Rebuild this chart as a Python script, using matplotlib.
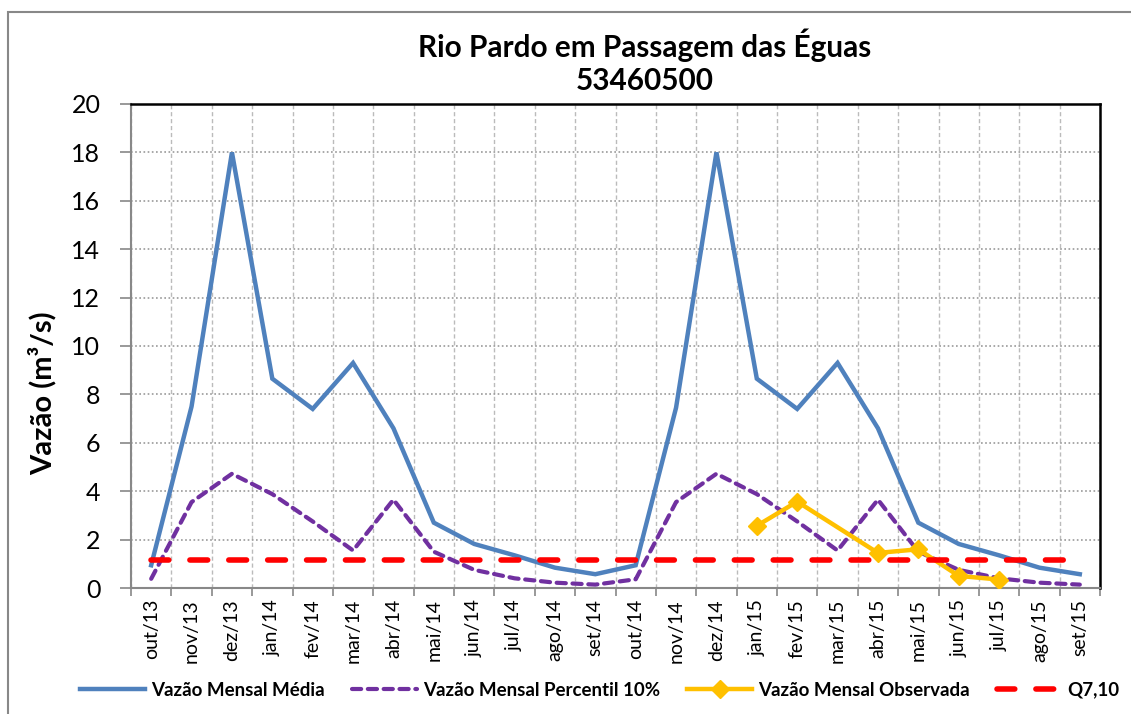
import numpy as np
import matplotlib
matplotlib.use("Agg")
import matplotlib.pyplot as plt
from matplotlib.patches import Rectangle

months = ["out/13", "nov/13", "dez/13", "jan/14", "fev/14", "mar/14", "abr/14", "mai/14",
          "jun/14", "jul/14", "ago/14", "set/14", "out/14", "nov/14", "dez/14", "jan/15",
          "fev/15", "mar/15", "abr/15", "mai/15", "jun/15", "jul/15", "ago/15", "set/15"]
media = [0.94, 7.5, 18.0, 8.65, 7.4, 9.3, 6.6, 2.7, 1.82, 1.35, 0.84, 0.57,
         0.94, 7.45, 18.0, 8.65, 7.4, 9.3, 6.6, 2.7, 1.82, 1.35, 0.84, 0.57]
perc10 = [0.38, 3.55, 4.72, 3.88, 2.75, 1.55, 3.65, 1.5, 0.75, 0.4, 0.22, 0.14,
          0.36, 3.55, 4.72, 3.88, 2.75, 1.55, 3.65, 1.5, 0.75, 0.4, 0.22, 0.14]
observada = [np.nan] * 15 + [2.57, 3.57, np.nan, 1.45, 1.6, 0.5, 0.35, np.nan, np.nan]
q710 = 1.17

plt.rcParams['font.family'] = ['Lato', 'DejaVu Sans']

fig = plt.figure(figsize=(11.31, 7.14), dpi=100)
ax = fig.add_axes([131/1131, 1-588/714, (1100-131)/1131, (588-104)/714])

x = np.arange(len(months))
ax.plot(x, media, color='#4F81BD', lw=3.2, solid_joinstyle='miter', label='Vazão Mensal Média', zorder=3)
ax.plot(x, perc10, color='#7030A0', lw=3.0, linestyle=(0, (2.2, 1.6)), dash_capstyle='round',
        label='Vazão Mensal Percentil 10%', zorder=3)
obs = np.array(observada, dtype=float)
m = ~np.isnan(obs)
ax.plot(x[m], obs[m], color='#FFC000', lw=3.2, marker='D', markersize=9.5, label='Vazão Mensal Observada', zorder=4)
ax.plot(x, [q710] * len(x), color='#FF0000', lw=4, linestyle=(0, (3.2, 3.8)), dash_capstyle='round',
        label='Q7,10', zorder=5)

ax.set_xlim(-0.5, len(months) - 0.5)
ax.set_ylim(0, 20)
ax.set_yticks(np.arange(0, 21, 2))
ax.set_xticks(x)
ax.set_xticklabels(months, rotation=90, fontsize=14)
ax.set_xticks(np.arange(-0.5, len(months), 1), minor=True)
ax.tick_params(axis='x', which='major', length=0, pad=8)
ax.tick_params(axis='x', which='minor', length=6, color='#888888', width=1.2)
ax.tick_params(axis='y', labelsize=18, length=8, color='#888888', width=1.2, pad=14)
ax.grid(True, axis='y', which='major', color='#999999', linestyle=(0, (1, 1.5)), lw=1.2)
ax.grid(True, axis='x', which='minor', color='#bbbbbb', linestyle=(0, (3, 2)), lw=1)
ax.set_axisbelow(True)
for s in ['left', 'bottom']:
    ax.spines[s].set_color('#888888')
    ax.spines[s].set_linewidth(1.5)
for s in ['top', 'right']:
    ax.spines[s].set_color('black')
    ax.spines[s].set_linewidth(1.8)

fig.text(42/1131, 1-393/714, 'Vazão (m³/s)', rotation=90, ha='center', va='center',
         fontsize=21, fontweight='bold')
fig.text(645/1131, 1-45/714, 'Rio Pardo em Passagem das Éguas', ha='center', va='center',
         fontsize=21.4, fontweight='bold')
fig.text(645/1131, 1-81/714, '53460500', ha='center', va='center', fontsize=21.4, fontweight='bold')

handles, labels = ax.get_legend_handles_labels()
leg = fig.legend(handles, labels, loc='center', bbox_to_anchor=(600/1131, 1-690/714), ncol=4,
                 frameon=False, prop={'size': 13.5, 'weight': 'bold'}, handlelength=3.47,
                 columnspacing=1.44, handletextpad=0.32, borderpad=0.2)

fig.add_artist(Rectangle((8/1131, -0.05), 1.2, (1-12/714) + 0.05, transform=fig.transFigure,
                         fill=False, edgecolor='#888888', lw=1.5))

fig.savefig('out.png', dpi=100)
